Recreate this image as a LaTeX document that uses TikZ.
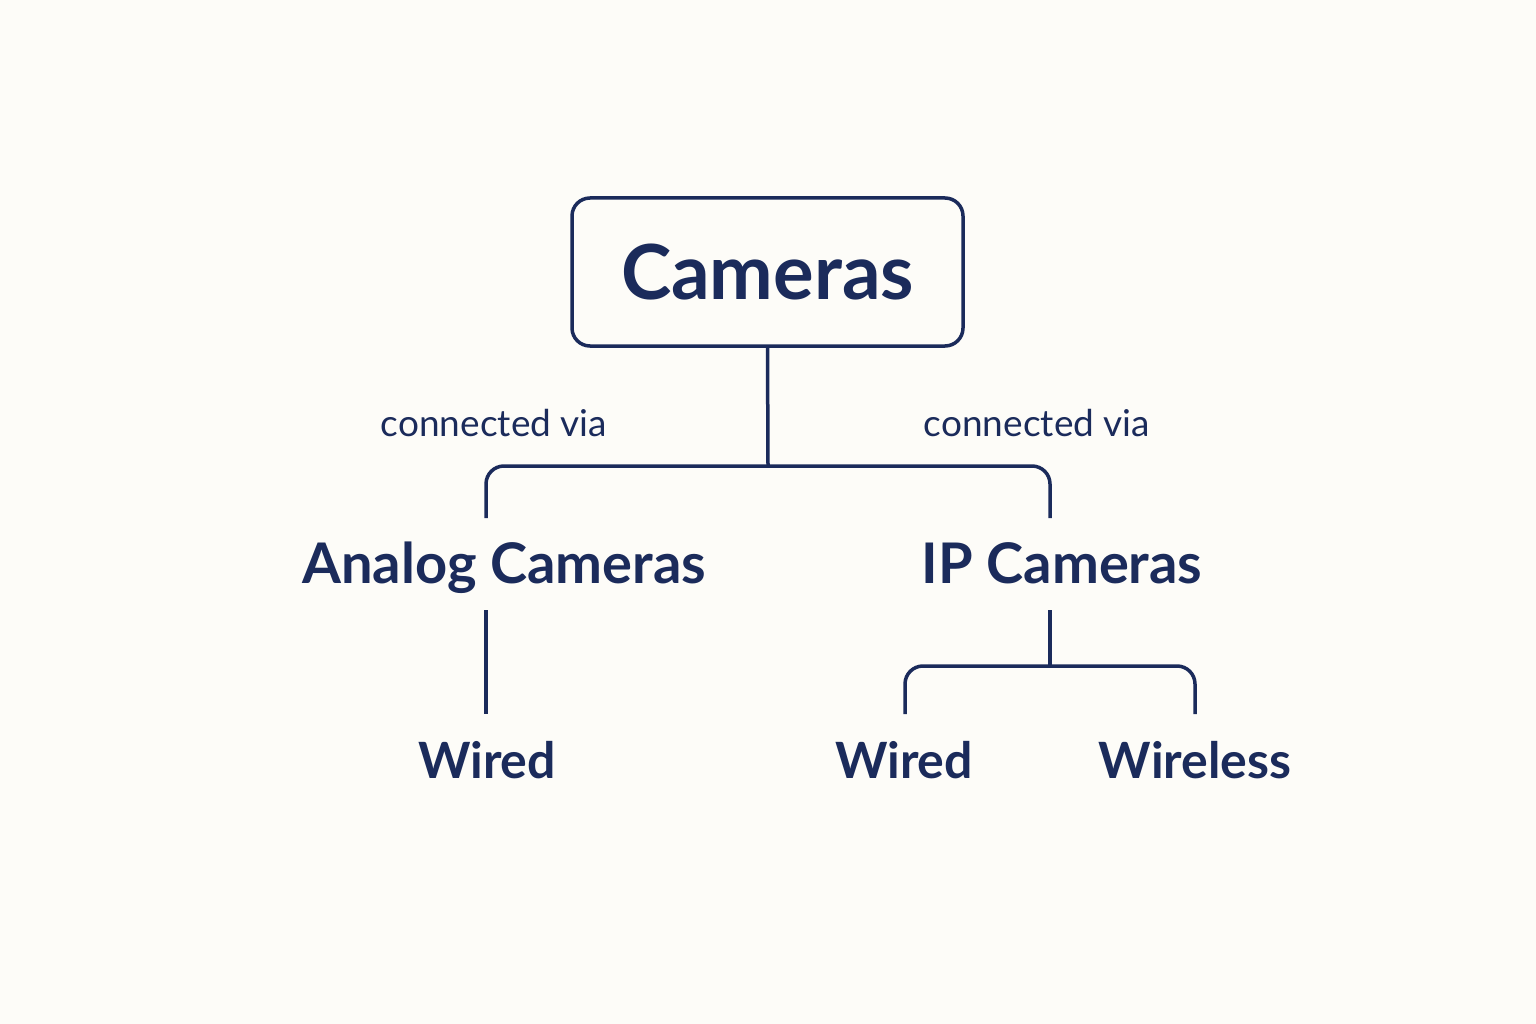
\documentclass[tikz,border=0pt]{standalone}
\usepackage{fontspec}
\setmainfont{Lato}
\definecolor{navy}{HTML}{1B2B5B}
\definecolor{bg}{HTML}{FDFCF8}
\begin{document}
\begin{tikzpicture}[x=1pt,y=-1pt,
  ln/.style={draw=navy,line width=3.5pt,rounded corners=18pt},
  lbl/.style={text=navy,font=\fontsize{50}{56}\selectfont\bfseries,inner sep=0,anchor=base},
  big/.style={text=navy,font=\fontsize{56}{60}\selectfont\bfseries,inner sep=0,anchor=base},
  sm/.style={text=navy,font=\fontsize{37}{40}\selectfont,inner sep=0,anchor=base}]
\fill[bg] (0,0) rectangle (1536,1024);
\useasboundingbox (0,0) rectangle (1536,1024);
\node[draw=navy,line width=3.5pt,rounded corners=18pt,minimum width=391pt,minimum height=148pt,text=navy,font=\fontsize{76}{80}\selectfont\bfseries] (cam) at (767.5,272) {Cameras};
\node[big] (analog) at (504,583) {Analog Cameras};
\node[big] (ip) at (1062,583) {IP Cameras};
\node[lbl] (w1) at (487,778) {Wired};
\node[lbl] (w2) at (904,778) {Wired};
\node[lbl] (wl) at (1195,778) {Wireless};
\node[sm] (c1) at (494,436) {connected via};
\node[sm] (c2) at (1037,436) {connected via};
\coordinate (j1) at (768,466);
\coordinate (a1) at (486,518);
\coordinate (b1) at (1050,518);
\draw[ln] (cam.south) -- (j1);
\draw[ln] (a1) -- (486,466) -- (1050,466) -- (b1);
\coordinate (a2) at (486,610); \coordinate (a3) at (486,714);
\draw[ln] (a2) -- (a3);
\coordinate (b2) at (1050,610); \coordinate (b3) at (1050,666);
\coordinate (d1) at (905,714); \coordinate (d2) at (1195,714);
\draw[ln] (b2) -- (b3);
\draw[ln] (d1) -- (905,666) -- (1195,666) -- (d2);
\end{tikzpicture}
\end{document}
